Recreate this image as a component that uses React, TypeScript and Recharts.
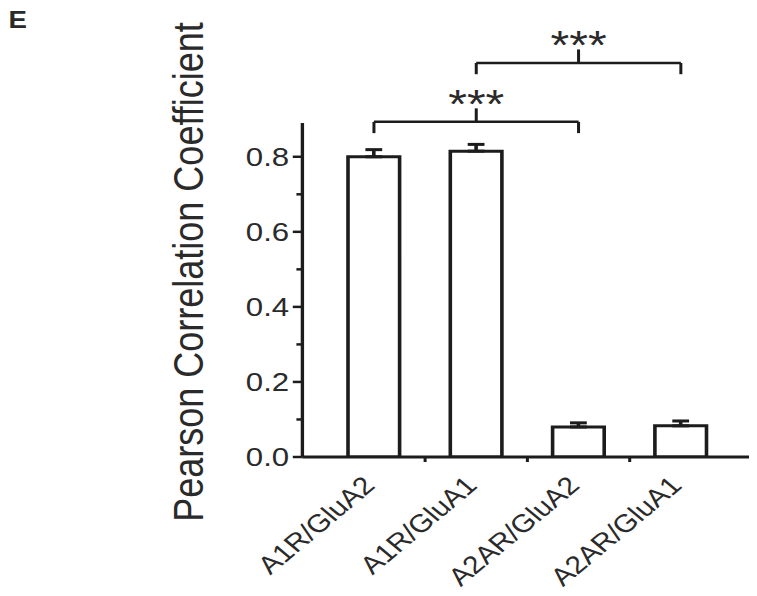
import {
  BarChart, Bar, XAxis, YAxis, ErrorBar, ReferenceLine, ReferenceDot,
} from 'recharts';

// bar groups and their values (mean ± SEM, upper whisker only)
const categories = ['A1R/GluA2', 'A1R/GluA1', 'A2AR/GluA2', 'A2AR/GluA1'];
const means = [0.8, 0.815, 0.08, 0.083];
const sems = [0.019, 0.018, 0.011, 0.013];
const yTicks = [0, 0.1, 0.2, 0.3, 0.4, 0.5, 0.6, 0.7, 0.8];
// significance brackets: from / to / middle category, bracket level, label
const brackets = [
  { from: 'A1R/GluA2', to: 'A2AR/GluA2', mid: 'A1R/GluA1', level: 0.893, label: '***' },
  { from: 'A1R/GluA1', to: 'A2AR/GluA1', mid: 'A2AR/GluA2', level: 1.05, label: '***' },
];

const data = categories.map((name, i) => ({ name, mean: means[i], err: [0, sems[i]] }));

// the source figure is stretched horizontally; draw at 1/1.2 width and stretch back
const STRETCH = 1.2;
const W = 631;
const H = 596;
const M = { top: 123, right: 4, bottom: 39, left: 0 };
const Y_W = 252;
const PAD = 17;
const BAND = (W - M.left - M.right - Y_W - 2 * PAD) / categories.length;
const INK = '#1c1c1c';
const TXT = '#2a2a2a';
const FONT = '"Liberation Sans", Arial, sans-serif';

function YTick(props: any) {
  const { x, y, payload } = props;
  if (!payload) return null;
  const v = Number(payload.value);
  const major = Math.round(v * 10) % 2 === 0;
  return (
    <g>
      <line x1={x - (major ? 8 : 5)} x2={x} y1={y} y2={y} stroke={INK} strokeWidth={2.5} />
      {major && (
        <text x={x - 11} y={y} dy="0.36em" textAnchor="end" fontSize={26} fill={TXT} fontFamily={FONT}>
          {v.toFixed(1)}
        </text>
      )}
    </g>
  );
}

function XTick(props: any) {
  const { x, y, payload, index } = props;
  if (!payload) return null;
  const tx = index < categories.length - 1 ? x + BAND / 2 : x + BAND / 2 + PAD;
  const ly = y + 30;
  return (
    <g>
      <line x1={tx} x2={tx} y1={y} y2={y + 5} stroke={INK} strokeWidth={2.5} />
      <text x={x + 2} y={ly} transform={`rotate(-45 ${x + 2} ${ly})`} textAnchor="end"
        fontSize={25} fill={TXT} fontFamily={FONT}>
        {payload.value}
      </text>
    </g>
  );
}

function Stars(props: any) {
  const vb = props.viewBox;
  if (!vb || vb.x == null) return null;
  return (
    <text x={vb.x} y={vb.y + 23} textAnchor="middle" fontSize={40} fill={TXT} fontFamily={FONT}>
      {props.text}
    </text>
  );
}

export default function App() {
  return (
    <div style={{ position: 'relative', width: 757, height: 596, margin: -8 }}>
      <div style={{
        position: 'absolute', left: 0, top: 0, width: W, height: H,
        transform: `scaleX(${STRETCH})`, transformOrigin: '0 0', fontFamily: FONT, color: TXT,
      }}>
        <span style={{
          position: 'absolute', left: 7, top: 9, fontWeight: 'bold', fontSize: 23, lineHeight: 1,
        }}>E</span>
        <span style={{ position: 'absolute', left: 157, top: 272, width: 0, height: 0 }}>
          <span style={{
            position: 'absolute', left: 0, top: 0, fontSize: 36, lineHeight: 1, whiteSpace: 'nowrap',
            transform: 'translate(-50%, -50%) rotate(-90deg)',
          }}>Pearson Correlation Coefficient</span>
        </span>
        <BarChart width={W} height={H} data={data} margin={M} barSize={43}>
          <XAxis
            dataKey="name" height={100} padding={{ left: PAD, right: PAD }}
            axisLine={{ stroke: INK, strokeWidth: 3 }} tickLine={false} tickSize={0} tickMargin={0}
            tick={<XTick />} interval={0}
          />
          <YAxis
            width={Y_W} domain={[0, 0.89]} ticks={yTicks} type="number" allowDataOverflow
            axisLine={{ stroke: INK, strokeWidth: 2.8 }} tickLine={false} tickSize={0} tickMargin={0}
            tick={<YTick />} interval={0}
          />
          <Bar dataKey="mean" fill="#fff" stroke={INK} strokeWidth={3} isAnimationActive={false}>
            <ErrorBar dataKey="err" direction="y" width={7} stroke={INK} strokeWidth={3} />
          </Bar>
          {brackets.map((b, i) => (
            <ReferenceLine key={`h${i}`} ifOverflow="visible" stroke={INK} strokeWidth={2.5}
              segment={[{ x: b.from, y: b.level }, { x: b.to, y: b.level }]} />
          ))}
          {brackets.map((b, i) => (
            <ReferenceLine key={`l${i}`} ifOverflow="visible" stroke={INK} strokeWidth={2.5}
              segment={[{ x: b.from, y: b.level }, { x: b.from, y: b.level - 0.03 }]} />
          ))}
          {brackets.map((b, i) => (
            <ReferenceLine key={`r${i}`} ifOverflow="visible" stroke={INK} strokeWidth={2.5}
              segment={[{ x: b.to, y: b.level }, { x: b.to, y: b.level - 0.03 }]} />
          ))}
          {brackets.map((b, i) => (
            <ReferenceLine key={`m${i}`} ifOverflow="visible" stroke={INK} strokeWidth={2.5}
              segment={[{ x: b.mid, y: b.level }, { x: b.mid, y: b.level + 0.036 }]} />
          ))}
          {brackets.map((b, i) => (
            <ReferenceDot key={`s${i}`} ifOverflow="visible" x={b.mid} y={b.level + 0.072} r={0}
              fill="none" stroke="none" label={<Stars text={b.label} />} />
          ))}
        </BarChart>
      </div>
    </div>
  );
}
